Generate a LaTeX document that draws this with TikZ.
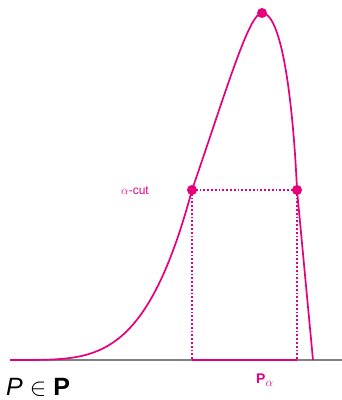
\documentclass[tikz,border=0pt]{standalone}
\usepackage{fontspec}
\setmainfont{Liberation Sans}
\usepackage{amsmath}
\definecolor{fuzzypink}{RGB}{230,0,126}
\tikzset{
    membership/.style={fuzzypink, line width=1.7pt},
    cutline/.style={fuzzypink, line width=1.8pt, dotted},
    cutdot/.style={circle, fill=fuzzypink, inner sep=0pt, minimum size=10pt},
    pinklabel/.style={text=fuzzypink, inner sep=0pt}
}
\begin{document}
\begin{tikzpicture}[x=1pt, y=-1pt]

        % ===============================
        % Marco de la figura
        % ===============================
        \useasboundingbox (0,0) rectangle (342,400);

        % Puntos de la funcion de pertenencia
        \coordinate (start) at (10,360);
        \coordinate (cutL)  at (192,190);
        \coordinate (peak)  at (262,13);
        \coordinate (cutR)  at (297,190);
        \coordinate (foot)  at (313,360);
        \coordinate (baseL) at (192,360);
        \coordinate (baseR) at (297,360);
        \coordinate (axisR) at (342,360);

        % ===============================
        % Eje
        % ===============================
        \draw[gray, line width=1.5pt] (start) -- (axisR);

        % ===============================
        % Funcion de pertenencia
        % ===============================
        \draw[membership]
        plot[domain=10:192, samples=60] (\x, {360-170*((\x-10)/182)^4})
        .. controls (227,88.5) and (249,13) .. (peak)
        .. controls (284,13) and (294,120) .. (cutR)
        -- (foot);

        % ===============================
        % alpha-corte
        % ===============================
        \draw[cutline] (cutL) -- (cutR);
        \draw[cutline] (cutL) -- (baseL);
        \draw[cutline] (cutR) -- (baseR);
        \draw[fuzzypink, line width=2pt] (baseL) -- (baseR);

        \node[cutdot] (dotL) at (cutL) {};
        \node[cutdot] (dotR) at (cutR) {};
        \node[cutdot] (dotP) at (peak) {};

        % Etiquetas
        \node[pinklabel, font=\fontsize{12}{14}\selectfont, anchor=base east] (cutlabel) at (149,194) {$\alpha$-cut};
        \node[pinklabel, font=\fontsize{14}{16}\selectfont\bfseries, anchor=base west] (setlabel) at (256,383)
            {P\raisebox{-3pt}{\fontsize{12}{14}\selectfont$\alpha$}};
        \node[inner sep=0pt, font=\fontsize{25}{28}\selectfont, anchor=base west] (setname) at (6,395) {\textit{P} $\in$ \textbf{P}};

    \end{tikzpicture}
\end{document}
